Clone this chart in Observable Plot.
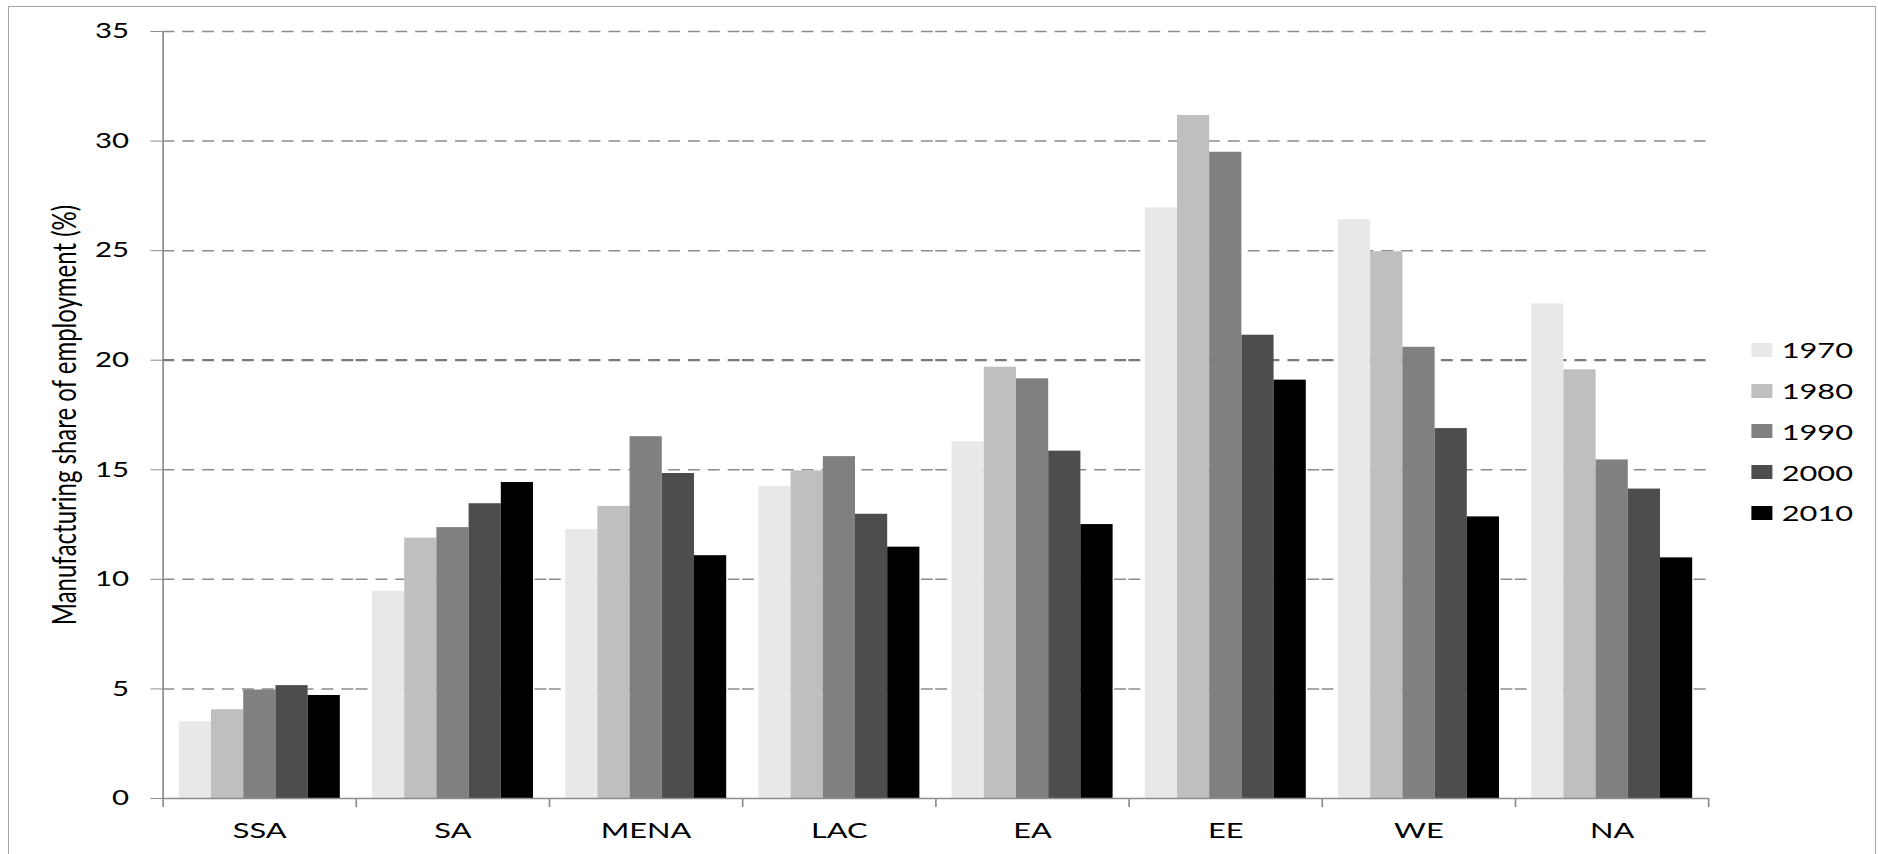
<!DOCTYPE html>
<html>
<head>
<meta charset="utf-8">
<script src="https://cdn.jsdelivr.net/npm/d3@7"></script>
<script src="https://cdn.jsdelivr.net/npm/@observablehq/plot@0.6"></script>
<style>
  html, body { margin: 0; padding: 0; background: #fff; width: 1878px; height: 854px; overflow: hidden; }
  #border { position: absolute; left: 8px; top: 6px; width: 1868px; height: 870px; border: 1px solid #a6a6a6; box-sizing: border-box; }
  #wrap { position: absolute; left: 0; top: 0; transform: scaleX(1.4); transform-origin: 0 0; }
  #legend { position: absolute; font-family: Lato, "Open Sans", sans-serif; font-size: 22px; color: #000; }
  .item { display: flex; align-items: center; height: 40.7px; }
  .sw { width: 15px; height: 14px; margin-right: 6.4px; }
</style>
</head>
<body>
<div id="border"></div>
<div id="wrap"><div id="chart"></div><div id="legend"></div></div>
<script>
// ---- data ----
const regions = ["SSA", "SA", "MENA", "LAC", "EA", "EE", "WE", "NA"];
const years = ["1970", "1980", "1990", "2000", "2010"];
const v1970 = [3.5, 9.45, 12.27, 14.24, 16.27, 26.95, 26.41, 22.57];
const v1980 = [4.05, 11.88, 13.33, 14.95, 19.68, 31.17, 24.95, 19.56];
const v1990 = [4.95, 12.36, 16.51, 15.6, 19.15, 29.49, 20.59, 15.45];
const v2000 = [5.15, 13.45, 14.83, 12.97, 15.85, 21.14, 16.88, 14.12];
const v2010 = [4.7, 14.42, 11.08, 11.47, 12.5, 19.09, 12.85, 10.98];
const yTicks = [0, 5, 10, 15, 20, 25, 30, 35];
const colors = ["#e8e8e8", "#bfbfbf", "#808080", "#4d4d4d", "#000000"];
const yLabel = "Manufacturing share of employment (%)";

const series = [v1970, v1980, v1990, v2000, v2010];
const data = regions.flatMap((r, i) => years.map((y, j) => ({region: r, year: y, value: series[j][i]})));

// ---- layout (horizontal stretch of 1.4 as in the original picture) ----
const S = 1.4;
const W = 1878 / S;
const H = 854;
const mTop = 31, mBottom = 56;
const mLeft = 160 / S, mRight = W - 1709 / S;
const innerH = H - mTop - mBottom;
const gridColor = "#8c8c8c";

const plot = Plot.plot({
  width: W,
  height: H,
  marginLeft: mLeft,
  marginRight: mRight,
  marginTop: mTop,
  marginBottom: mBottom,
  style: {fontFamily: "Lato, 'Open Sans', sans-serif", fontSize: "21px", color: "#000", background: "transparent", overflow: "visible"},
  fx: {domain: regions, padding: 0, label: null, axis: null},
  x: {domain: years, paddingInner: 0, paddingOuter: 0.49, axis: null},
  y: {domain: [0, 35], label: null},
  color: {domain: years, range: colors},
  marks: [
    Plot.ruleY(yTicks.filter(d => d > 0 && d !== 20), {stroke: gridColor, strokeWidth: 1.5, strokeDasharray: "8.5,5.7"}),
    Plot.ruleY(yTicks.filter(d => d === 20), {stroke: "#7a7a7a", strokeWidth: 2.3, strokeDasharray: "8.5,5.7"}),
    Plot.barY(data, {fx: "region", x: "year", y: "value", fill: "year"}),
    Plot.ruleY([0], {stroke: gridColor, strokeWidth: 1.5}),
    Plot.frame({facetAnchor: "left", anchor: "left", stroke: gridColor, strokeWidth: 1.2}),
    Plot.frame({anchor: "left", stroke: gridColor, strokeWidth: 1.2, insetTop: innerH, insetBottom: -8}),
    Plot.frame({anchor: "right", facetAnchor: "right", stroke: gridColor, strokeWidth: 1.2, insetTop: innerH, insetBottom: -8}),
    Plot.axisY({ticks: yTicks, tickSize: 12 / S, tickPadding: 22 / S, stroke: gridColor, label: yLabel, labelAnchor: "center", labelArrow: "none", labelOffset: 79, fontSize: 21}),
    Plot.axisFx({anchor: "bottom", tickSize: 0, tickPadding: 24, fontSize: 22, label: null})
  ]
});
d3.select(plot).select('g[aria-label="y-axis label"]').style("font-size", "24px");
document.getElementById("chart").appendChild(plot);

// ---- legend ----
const legend = d3.select("#legend")
  .style("left", (1751.7 / S) + "px")
  .style("top", "329.6px");
const items = legend.selectAll("div.item").data(years).join("div").attr("class", "item");
items.append("div").attr("class", "sw").style("background", (d, i) => colors[i]);
items.append("span").text(d => d);
</script>
</body>
</html>
